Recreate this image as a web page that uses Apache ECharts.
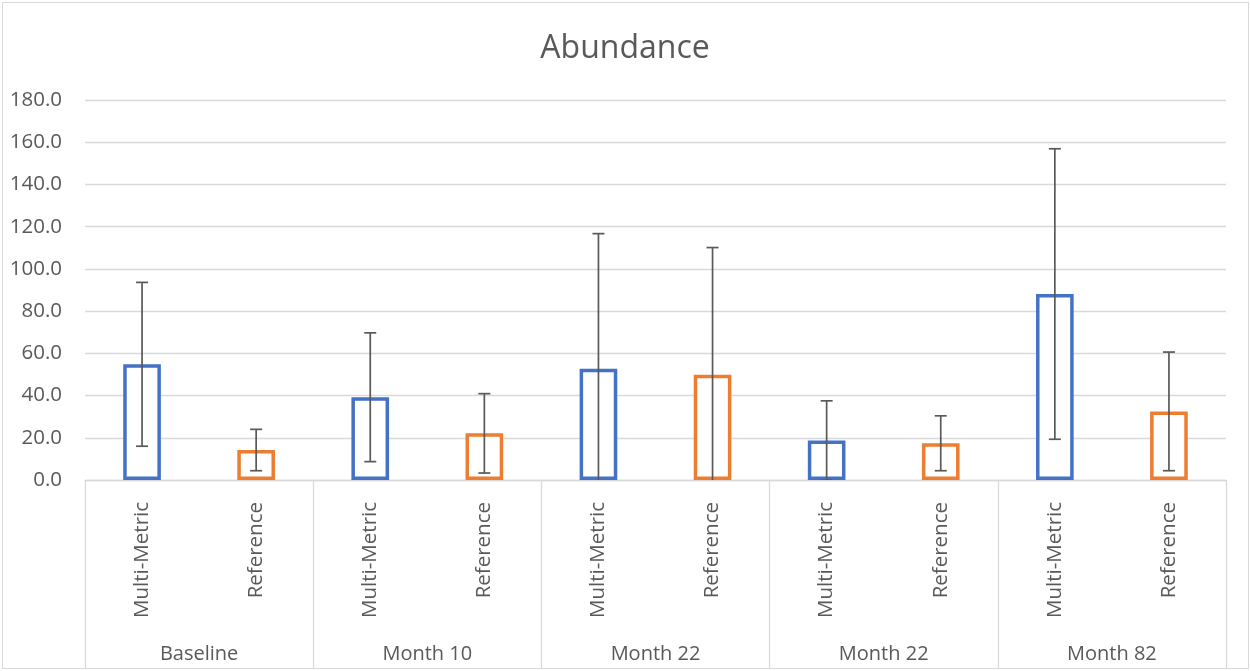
<!DOCTYPE html>
<html>
<head>
<meta charset="utf-8">
<script src="https://cdn.jsdelivr.net/npm/echarts@6/dist/echarts.min.js"></script>
<style>
  html, body { margin: 0; padding: 0; background: #fff; }
  #chart { position: absolute; left: 0; top: 0; width: 1250px; height: 671px; }
  #frame { position: absolute; left: 2px; top: 2px; width: 1247px; height: 667px; box-sizing: border-box; border: 1px solid #d9d9d9; pointer-events: none; }
</style>
</head>
<body>
<div id="chart"></div>
<div id="frame"></div>
<script>
// ---- data ----
const groups = ['Baseline', 'Month 10', 'Month 22', 'Month 22', 'Month 82'];
const seriesNames = ['Multi-Metric', 'Reference'];
const multiMetric = [54.8, 39.2, 52.7, 18.7, 88.1];
const multiMetricErr = [38.8, 30.5, 64.0, 18.8, 68.8];
const reference = [14.2, 22.1, 49.9, 17.4, 32.5];
const referenceErr = [9.8, 18.8, 60.2, 13.0, 28.1];
const yTicks = [0, 20, 40, 60, 80, 100, 120, 140, 160, 180];

// ---- build ----
const categories = [];
const mmData = [], refData = [], errData = [];
groups.forEach((g, i) => {
  categories.push(seriesNames[0], seriesNames[1]);
  mmData.push(multiMetric[i], '-');
  refData.push('-', reference[i]);
  errData.push([2 * i, multiMetric[i], multiMetricErr[i]]);
  errData.push([2 * i + 1, reference[i], referenceErr[i]]);
});

const FONT = 'Open Sans';
const TXT = '#595959';
const GRIDC = '#d9d9d9';

const chart = echarts.init(document.getElementById('chart'), null, { renderer: 'canvas' });
chart.setOption({
  animation: false,
  backgroundColor: '#fff',
  title: {
    text: 'Abundance', left: 'center', top: 28,
    textStyle: { fontFamily: FONT, fontSize: 32, fontWeight: 'normal', color: TXT }
  },
  grid: { left: 85, right: 24, top: 100, bottom: 191 },
  xAxis: [
    {
      type: 'category', data: categories, position: 'bottom',
      axisLine: { show: true, lineStyle: { color: GRIDC, width: 1.3 } },
      axisTick: { show: false },
      axisLabel: { interval: 0, rotate: 90, margin: 22, fontFamily: FONT, fontSize: 20.5, color: TXT }
    },
    {
      type: 'category', data: groups, position: 'bottom',
      axisLine: { show: false },
      axisTick: { show: true, interval: 0, length: 188, lineStyle: { color: GRIDC, width: 1.3 } },
      axisLabel: { interval: 0, margin: 164, fontFamily: FONT, fontSize: 20, color: TXT }
    }
  ],
  yAxis: {
    type: 'value', min: yTicks[0], max: yTicks[yTicks.length - 1], interval: yTicks[1] - yTicks[0],
    axisLine: { show: false }, axisTick: { show: false },
    axisLabel: { margin: 23, fontFamily: FONT, fontSize: 20.5, color: TXT, formatter: v => v.toFixed(1) },
    splitLine: { lineStyle: { color: GRIDC, width: 1.3 } }
  },
  series: [
    {
      name: seriesNames[0], type: 'bar', data: mmData, barWidth: '33%', barGap: '-100%',
      itemStyle: { color: '#fff', borderColor: '#4472C4', borderWidth: 3.5 }, z: 2
    },
    {
      name: seriesNames[1], type: 'bar', data: refData, barWidth: '33%', barGap: '-100%',
      itemStyle: { color: '#fff', borderColor: '#ED7D31', borderWidth: 3.5 }, z: 2
    },
    {
      type: 'custom', data: errData, clip: true, z: 5,
      encode: { x: 0, y: [1, 2] },
      renderItem: function (params, api) {
        const x = api.value(0), v = api.value(1), e = api.value(2);
        const hi = api.coord([x, v + e]);
        const lo = api.coord([x, v - e]);
        const cap = 6;
        const style = { stroke: '#595959', lineWidth: 1.7, fill: null };
        return {
          type: 'group',
          children: [
            { type: 'line', shape: { x1: hi[0], y1: hi[1], x2: lo[0], y2: lo[1] }, style: style },
            { type: 'line', shape: { x1: hi[0] - cap, y1: hi[1], x2: hi[0] + cap, y2: hi[1] }, style: style },
            { type: 'line', shape: { x1: lo[0] - cap, y1: lo[1], x2: lo[0] + cap, y2: lo[1] }, style: style }
          ]
        };
      }
    }
  ]
});
</script>
</body>
</html>
